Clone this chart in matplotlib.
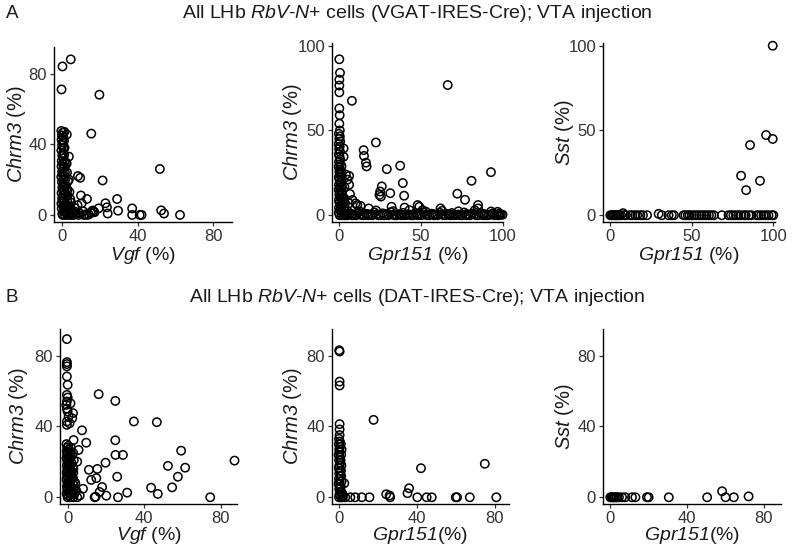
import matplotlib
matplotlib.use("Agg")
import matplotlib.pyplot as plt

plt.rcParams['font.family'] = ['Liberation Sans', 'DejaVu Sans']
plt.rcParams['mathtext.fontset'] = 'custom'
plt.rcParams['mathtext.rm'] = 'Liberation Sans:italic'
plt.rcParams['mathtext.it'] = 'Liberation Sans:italic'
plt.rcParams['mathtext.bf'] = 'Liberation Sans:bold'

# ---------------- Panel A: VGAT-IRES-Cre ----------------
# A1: Vgf (%) vs Chrm3 (%)
a1_vgf = [0, 4.4, -0.5, 19.6, 15.3, 2.3, 3.4, 51.7, 8.2, 9.4, 21.3, 3.4, 2.6, 9.8,
          13, 29, 22.8, 23.6, 10.2, 19.2, 29.5, 37, 37, 41, 42, 52.4, 53.9, 62.4,
          24, 16.5, 14.9, 8.6, 11.3, 5.3, 13, 4, 2, 4.6, 6.5, 17, 16, 2,
          -0.6, 0.2, -0.3, 0.5, -0.5, 0.1, -0.2, 0.4, -0.6, 0.3, -0.1, 0.5, -0.4, 0.2,
          -0.5, 0.4, -0.2, 0.1, -0.6, 0.3, -0.3, 0.5, -0.1, 0.2, -0.5, 0.4, -0.2, 0.1,
          -0.6, 0.3, -0.4, 0.5, -0.1, 0.2,
          1.2, 1.5, 1.0, 1.4, 1.1, 1.6, 1.3, 1.0, 1.5, 1.2, 1.4, 1.1, 1.3, 1.0, 1.2,
          0.9, 1.1, 0.8, 1.0,
          2.5, 2.8, 2.4, 2.7, 2.5, 2.6, 2.3, 2.9, 2.4, 2.2,
          4, 3.8, 4.2, 3.9, 4.1, 3.7,
          6, 6.5, 7, 9, 8, 11, 12, 14]
a1_chrm3 = [84, 88, 71, 68, 46, 45.5, 33, 26, 22, 21, 19.5, 20, 14, 11,
            9, 9, 6.6, 4.3, 6.6, 3.7, 2.4, 3.7, 0, 0, 0, 2.6, 0.8, 0,
            0.8, 1.9, 1.3, 0, 0, 0, 0, 3.7, 5, 7, 4, 1.5, 2.5, 29.5,
            47.5, 46.5, 45, 44, 42.5, 41, 39.5, 38, 36.5, 35, 33.5, 32, 30.5, 29,
            27.5, 26, 24.5, 23, 21.5, 20, 18.5, 17, 15.5, 14, 12.5, 11, 9.5, 8,
            6.5, 5, 3.5, 2, 0.5, 0,
            0, 2, 4, 6, 8, 10, 12, 14, 16, 18, 20, 22, 24, 27, 30,
            34, 38, 42, 47,
            0, 1, 3, 5, 8, 11, 15, 19, 24, 29,
            0, 1, 2.5, 5, 9, 13,
            0, 2, 0.5, 1, 5.5, 2, 0.3, 0.2]

# A2: Gpr151 (%) vs Chrm3 (%)
a2_gpr151 = [0, 0.4, 0, 0, 0, 7.7, 66.4, 0, 0.2, 0, 0.3, 2.6, 2.6, 22.4, 14.9, 15.1,
             16.3, 16.7, 29.1, 37.3, 38.9, 39.7, 92.9, 81, 72.3, 77, 26, 25, 24.6, 25.5,
             31.2, 4, 6, 6, 6.5, 5, 3.1, 6, 11, 18, 32, 40, 48, 49, 51, 62, 85, 85, 97,
             98, 8, 10, 13, 3, 3,
             -0.3, 0.3, 0, 0.5, -0.4, 0.2, -0.1, 0.4, -0.3, 0.1, 0.5, -0.2, 0.3, -0.4,
             0.2, 0, 0.4, -0.3, 0.1, 0.5, -0.2, 0.3, -0.4, 0.2, 0, 0.4, -0.3, 0.1, 0.5,
             -0.2, 0.3, -0.4, 0.2,
             1.5, 1.8, 1.2, 1.6, 1.9, 1.3, 1.7, 1.4, 1.6, 1.2, 1.5, 1.1, 1.3,
             3, 3.3, 2.8, 3.1, 3.4,
             4, 6.5, 9, 11.5, 14, 16.5, 19, 21.5, 24, 26.5, 29, 31.5, 34, 36.5, 39, 41.5,
             44, 46.5, 49, 51.5, 54, 56.5, 59, 61.5, 64, 66.5, 69, 71.5, 74, 76.5, 79,
             81.5, 84, 86.5, 89, 91.5, 94, 96.5, 99,
             5, 8, 12.5, 17.5, 22.5, 27.5, 33, 38, 43, 48, 53, 58, 63, 68, 73, 78, 83,
             88, 93, 98, 100,
             2.5, 5.2, 7.7, 10.2, 12.7, 15.2, 17.7, 20.2, 22.7, 25.2, 27.7, 30.2, 32.7,
             35.2, 37.7, 40.2, 42.7, 45.2, 47.7, 50.2, 52.7, 55.2, 57.7, 60.2, 62.7,
             65.2, 67.7, 70.2, 72.7, 75.2, 77.7, 80.2, 82.7, 85.2, 87.7, 90.2, 92.7,
             95.2, 97.7]
a2_chrm3 = [92, 84, 80, 76.5, 72.5, 67.5, 76.8, 63, 59, 54, 50, 39.4, 34.5, 42.9, 38.4, 35,
            31, 28.8, 27.2, 29.2, 19, 11.5, 25.4, 20.3, 12.7, 9.1, 17, 14, 12, 11,
            13, 24, 23.2, 18, 12.5, 21, 16.7, 7, 6, 4, 5, 4.5, 6, 5, 3, 4, 6, 4, 2,
            0, 9, 7, 5.5, 10, 8,
            48, 46.5, 45, 43.5, 42, 40.5, 39, 37.5, 36, 34.5, 33, 31.5, 30, 28.5,
            27, 25.5, 24, 22.5, 21, 19.5, 18, 16.5, 15, 13.5, 12, 10.5, 9, 7.5, 6,
            4.5, 3, 1.5, 0,
            0, 2, 4, 6, 8, 10, 12, 14, 17, 20, 23, 26, 29,
            0, 1, 3, 5, 7,
            0, 1, 0.3, 1.5, 0, 0.8, 0.2, 1.6, 0, 1.1, 0.4, 1.8, 0, 0.6, 1.4, 0.2,
            0, 1.2, 0.5, 1.7, 0, 0.9, 0.3, 1.5, 0, 0.7, 1.3, 0.1, 0, 1.6, 0.4,
            1, 0, 1.4, 0.6, 0.2, 1.1, 0, 0.5,
            2.5, 0, 2.2, 0, 2.8, 0, 2.4, 0, 3, 0, 2.1, 0, 2.6, 0, 2.3, 0, 2.9,
            0, 2.2, 1, 0.3,
            0.5, 0, 0.7, 0, 0.4, 0, 0.6, 0, 0.5, 0, 0.8, 0, 0.3,
            0, 0.6, 0, 0.5, 0, 0.7, 0, 0.4, 0, 0.6, 0, 0.5,
            0, 0.7, 0, 0.4, 0, 0.6, 0, 0.5, 0, 0.8, 0, 0.3,
            0, 0.5]

# A3: Gpr151 (%) vs Sst (%)
a3_gpr151 = [99.6, 95.5, 99.6, 85.7, 80.2, 91.8, 83.3,
             0, 0.8, 1.5, 2.2, 3, 3.8, 4.5, 5.5, 6.5, 7.8, 8.5, 9.5, 12.2, 13.5, 15.3,
             16.5, 18.4, 20, 22.5, 29.6, 31.6, 35.7, 37.7, 39, 44.9, 46, 47.5, 48.5, 50,
             51.5, 53, 54.5, 56, 57.5, 59, 60.5, 62, 63.5, 68.4, 72.5, 74, 75.5, 77, 78.5,
             80, 82, 83, 85, 86.5, 89.8, 91, 92.5, 94, 95.5, 97, 99, 100]
a3_sst = [100, 47.3, 45, 41.4, 23.3, 20.3, 14.8,
          0, 0, 0, 0, 0, 0, 0, 0, 0, 1.2, 0, 0, 0, 0, 0,
          0, 0, 0, 0, 0.8, 0, 0, 0, 0, 0, 0, 0, 0, 0,
          0, 0, 0, 0, 0, 0, 0, 0, 0, 0, 0, 0, 0, 0, 0,
          0, 0, 0, 0, 0, 0, 0, 0, 0, 0, 0, 0, 0]

# ---------------- Panel B: DAT-IRES-Cre ----------------
# B1: Vgf (%) vs Chrm3 (%)
b1_vgf = [-0.4, -0.4, -0.4, -0.4, -0.4, 0, -0.4, 0, -0.4, -0.7, 0, 2.8, 2.4, -0.4, -0.4,
          1, 16.2, 24.9, 34.6, 46.6, 7.5, 3.1, 9.7, 24.9, 25, 28.9, 59.3, 87.2, 5.7, 5,
          19.8, 52.4, 61.4, 57.6, 25.9, 15.5, 11.1, 12.3, 15, 43.6, 54.6, 47.1, 31.1,
          26.3, 74.5, 20.2, 14.6, 14.1, 18, 16.7, 8, 4.5, 6.3, 2, 3, 4, 3.5, 5,
          -0.4, 0.5, 1.5,
          -0.6, 0.3, -0.2, 0.5, -0.5, 0.1, -0.3, 0.4, -0.6, 0.2, -0.1, 0.5, -0.4, 0.3,
          -0.2, 0.1, -0.5, 0.4, -0.3, 0.2, -0.6, 0.5, -0.1, 0.3, -0.4, 0.1, -0.2, 0.4,
          -0.5, 0.2, 0,
          1.5, 1.8, 1.3, 1.6, 1.2, 1.9, 1.4, 1.7, 1.3, 1.5, 1.8, 1.2, 1.6, 1.4, 1.7,
          3, 3.2, 2.8, 3.1, 2.9, 3.3, 2.7, 3, 2.8, 3.2, 2.9]
b1_chrm3 = [89.3, 76.3, 75.2, 73.9, 68.2, 63.5, 57.8, 56.3, 54.1, 52.2, 48.4, 47.5, 44.6, 42.8, 40.9,
            41.8, 58.2, 54.4, 42.8, 42.4, 37.8, 32.3, 30.8, 32.2, 23.9, 23.9, 26.3, 20.7, 26.7, 20.1,
            19.5, 17.7, 16.7, 11.6, 11.6, 16, 15.5, 9.8, 10.8, 5.4, 5.6, 1.9, 2.6,
            0, 0, 0.9, 0.3, 0, 5.8, 3, 4.8, 3.8, 1, 13, 16, 8, 2, 0,
            50, 45.5, 53,
            30, 29, 28, 27, 26, 25, 24, 23, 22, 21, 20, 19, 18, 17,
            16, 15, 14, 13, 12, 11, 10, 9, 8, 7, 6, 5, 4, 3,
            2, 1, 0,
            0, 2, 4, 6, 8, 10, 12, 14, 16, 18, 20, 22, 24, 26, 28,
            0, 1.5, 3, 5, 7, 9, 11, 14, 17, 21, 25]

# B2: Gpr151 (%) vs Chrm3 (%)
b2_gpr151 = [0.5, 0.3, 0.5, 0.5, 17.9, 0.5, 0.5, 0.5, 2.9, 42.2, 74.9, 36.1, 35.3, 24.4,
             26.1, 26.4, 3.4, 6, 8.5, 11.9, 15.8, 40.3, 45.1, 47.7, 60, 60.7, 67.2, 80.8,
             0.2, 0.6, 0.1, 0.7, 0.3, 0.5, 0, 0.6, 0.2, 0.8, 0.4, 0.1, 0.6, 0.3, 0.7,
             0.2, 0.5, 0, 0.6, 0.3, 0.8, 0.4, 0.2,
             1.2, 1.4, 1.1, 1.5, 1.3, 1.2, 1.4, 1.0, 1.3, 1.5, 1.1,
             2, 2.3, 1.8]
b2_chrm3 = [82.3, 83, 65.3, 63.1, 43.7, 41.3, 38.3, 35.1, 7.9, 16.4, 18.9, 5.1, 2.3, 1.7,
            1, 0, 0, 0, 0, 0, 0, 0, 0, 0, 0, 0, 0, 0,
            33, 31.5, 30, 28.5, 27, 25.5, 24, 22.5, 21, 19.5, 18, 16.5, 15, 13.5, 12,
            10.5, 9, 7.5, 6, 4.5, 3, 1.5, 0,
            0, 3, 6, 9, 12, 15, 18, 21, 24, 27, 30,
            0, 1, 2]

# B3: Gpr151 (%) vs Sst (%)
b3_gpr151 = [0, 0.6, 1.2, 1.7, 2.3, 3, 3.5, 4.5, 6.1, 7.8, 11.3, 13.1, 19.1, 20, 30.5,
             50.5, 58.3, 60.1, 64.4, 72.1]
b3_sst = [0, 0, 0, 0, 0, 0, 0, 0, 0, 0, 0, 0, 0, 0, 0,
          0, 3.4, 0, 0, 0.5]

title_a = "All LHb $RbV$-$N$+ cells (VGAT-IRES-Cre); VTA injection"
title_b = "All LHb $RbV$-$N$+ cells (DAT-IRES-Cre); VTA injection"

W, H = 794, 555
fig = plt.figure(figsize=(W / 100, H / 100), dpi=100)

TICK_C = '#333333'
LAB_C = '#1a1a1a'


def px_axes(l, t, r, b):
    return fig.add_axes([l / W, 1 - b / H, (r - l) / W, (b - t) / H])


panels = [
    (a1_vgf, a1_chrm3, (54, 47, 232, 222), (-4.5, 90), (-4, 95), [0, 40, 80], [0, 40, 80],
     "$Vgf$ (%)", "$Chrm3$ (%)", 17, 255),
    (a2_gpr151, a2_chrm3, (332, 43, 503, 222), (-4.5, 100.3), (-4, 101.6), [0, 50, 100], [0, 50, 100],
     "$Gpr151$ (%)", "$Chrm3$ (%)", 293, 255),
    (a3_gpr151, a3_sst, (603, 43, 775, 222), (-4.5, 101), (-4, 101.6), [0, 50, 100], [0, 50, 100],
     "$Gpr151$ (%)", "$Sst$ (%)", 565, 255),
    (b1_vgf, b1_chrm3, (60, 329, 237, 504), (-4, 88.5), (-3.8, 95), [0, 40, 80], [0, 40, 80],
     "$Vgf$ (%)", "$Chrm3$ (%)", 19, 536),
    (b2_gpr151, b2_chrm3, (332, 329, 509, 504), (-3.4, 87.3), (-3.8, 95), [0, 40, 80], [0, 40, 80],
     "$Gpr151$(%)", "$Chrm3$ (%)", 292, 536),
    (b3_gpr151, b3_sst, (603, 329, 781, 504), (-3.8, 89), (-3.8, 95), [0, 40, 80], [0, 40, 80],
     "$Gpr151$(%)", "$Sst$ (%)", 564, 536),
]

for xs, ys, box, xl, yl, xt, yt, xlab, ylab, ylx, xly in panels:
    l, t, r, b = box
    ax = px_axes(l, t, r, b)
    ax.scatter(xs, ys, s=36, facecolors='none', edgecolors='black', linewidths=1.1,
               clip_on=False, zorder=3)
    ax.set_xlim(*xl)
    ax.set_ylim(*yl)
    ax.set_xticks(xt)
    ax.set_yticks(yt)
    for sp in ('top', 'right'):
        ax.spines[sp].set_visible(False)
    for sp in ('left', 'bottom'):
        ax.spines[sp].set_linewidth(1.0)
        ax.spines[sp].set_color('black')
    ax.tick_params(axis='both', length=3, width=0.9, color='#333333', labelsize=12,
                   labelcolor=TICK_C, pad=2)
    fig.text(ylx / W, 1 - ((t + b) / 2) / H, ylab, rotation=90, ha='center', va='center',
             fontsize=14.5, color=LAB_C)
    fig.text(((l + r) / 2) / W, 1 - xly / H, xlab, ha='center', va='center',
             fontsize=14, color=LAB_C)

fig.text(12 / W, 1 - 13 / H, "A", ha='center', va='center', fontsize=13.5, color=LAB_C)
fig.text(12 / W, 1 - 298 / H, "B", ha='center', va='center', fontsize=13.5, color=LAB_C)
fig.text(417 / W, 1 - 14 / H, title_a, ha='center', va='center', fontsize=14, color=LAB_C)
fig.text(417 / W, 1 - 298 / H, title_b, ha='center', va='center', fontsize=14, color=LAB_C)

fig.savefig("out.png", dpi=100)
